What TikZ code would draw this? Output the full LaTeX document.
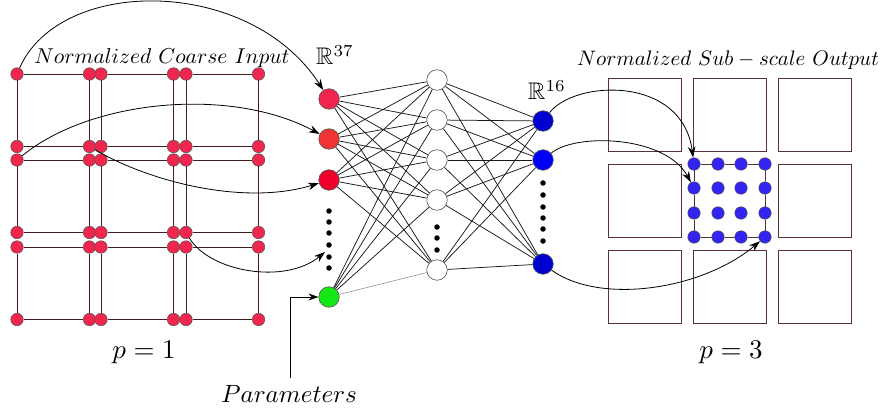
\documentclass[tikz,border=0pt]{standalone}
\usepackage{amssymb}
\usetikzlibrary{arrows.meta}

\definecolor{gridline}{RGB}{70,30,34}
\definecolor{cellline}{RGB}{90,50,54}
\definecolor{crimson}{RGB}{240,38,78}
\definecolor{inred}{RGB}{240,52,52}
\definecolor{indeep}{RGB}{238,0,42}
\definecolor{ingreen}{RGB}{20,232,20}
\definecolor{outdark}{RGB}{0,0,208}
\definecolor{outbright}{RGB}{0,0,250}
\definecolor{subblue}{RGB}{52,36,242}
\definecolor{rimgray}{RGB}{85,85,85}

\tikzset{
  cdot/.style={circle, fill=crimson, draw=rimgray, line width=0.5pt, inner sep=0pt, minimum size=12.5pt},
  bdot/.style={circle, fill=subblue, draw=rimgray, line width=0.5pt, inner sep=0pt, minimum size=12.5pt},
  unit/.style={circle, draw=rimgray, line width=0.6pt, inner sep=0pt, minimum size=20.5pt},
  hidden/.style={unit, fill=white},
  vdot/.style={circle, fill=black, inner sep=0pt, minimum size=5.5pt},
  gridedge/.style={draw=gridline, line width=0.95pt},
  celledge/.style={draw=cellline, line width=0.95pt},
  wire/.style={draw=black!90, line width=0.75pt},
  curvearrow/.style={draw=black, line width=0.8pt, -{Stealth[length=11pt,width=7.5pt]}},
  lbl/.style={inner sep=0pt},
}

\begin{document}
\begin{tikzpicture}[x=1pt, y=-1pt]
\useasboundingbox (0,0) rectangle (880,414);

% ---------- coarse input: 3x3 cells with corner points ----------
\foreach \cx/\x in {0/17, 1/101, 2/186} {
  \foreach \ry/\y in {0/74, 1/160, 2/247} {
    \node[cdot] (c\cx\ry-tl) at (\x, \y) {};
    \node[cdot] (c\cx\ry-tr) at (\x+72.5, \y) {};
    \node[cdot] (c\cx\ry-br) at (\x+72.5, \y+72.5) {};
    \node[cdot] (c\cx\ry-bl) at (\x, \y+72.5) {};
    \path[gridedge] (c\cx\ry-tl) -- (c\cx\ry-tr) -- (c\cx\ry-br) -- (c\cx\ry-bl) -- (c\cx\ry-tl);
  }
}

% ---------- network ----------
\node[unit, fill=crimson] (in1) at (329, 99) {};
\node[unit, fill=inred] (in2) at (329, 139) {};
\node[unit, fill=indeep] (in3) at (329, 180) {};
\node[unit, fill=ingreen] (gn) at (329, 297) {};
\foreach \k/\y in {1/211, 2/222, 3/233, 4/245, 5/257, 6/268}
  \node[vdot] (iv\k) at (329, \y) {};

\node[hidden] (h1) at (437, 80) {};
\node[hidden] (h2) at (437, 120) {};
\node[hidden] (h3) at (437, 160) {};
\node[hidden] (h4) at (437, 200) {};
\node[hidden] (h5) at (437, 270) {};
\foreach \k/\y in {1/227, 2/238, 3/250}
  \node[vdot] (hv\k) at (437, \y) {};

\node[unit, fill=outdark] (o1) at (543, 121) {};
\node[unit, fill=outbright] (o2) at (543, 160) {};
\node[unit, fill=outdark] (o3) at (543, 264) {};
\foreach \k/\y in {1/183, 2/195, 3/207, 4/218, 5/229, 6/241}
  \node[vdot] (ov\k) at (543, \y) {};

\foreach \a in {in1, in2, in3} {
  \foreach \b in {h1, h2, h3, h4, h5}
    \path[wire] (\a) -- (\b);
}
\foreach \b in {h1, h2, h3, h4}
  \path[wire] (gn) -- (\b);
\path[draw=black!45, line width=0.6pt] (gn) -- (h5);
\foreach \a in {h1, h2, h3, h4, h5} {
  \foreach \b in {o1, o2, o3}
    \path[wire] (\a) -- (\b);
}

\node[lbl, anchor=base west] (dimin) at (316, 65) {\scalebox{2.4}{$\mathbb{R}^{37}$}};
\node[lbl, anchor=base west] (dimout) at (528, 100) {\scalebox{2.4}{$\mathbb{R}^{16}$}};

% ---------- sub-scale output ----------
\foreach \x in {608, 693, 778} {
  \foreach \y in {78, 164, 250} {
    \ifnum\x=693 \ifnum\y=164 \else
      \draw[celledge] (\x, \y) rectangle (\x+73, \y+73);
    \fi\else
      \draw[celledge] (\x, \y) rectangle (\x+73, \y+73);
    \fi
  }
}
\foreach \i/\x in {1/694, 2/718, 3/741, 4/765} {
  \foreach \j/\y in {1/164, 2/188, 3/213, 4/237}
    \node[bdot] (s\i\j) at (\x, \y) {};
}
\path[celledge] (s11) -- (s21) -- (s31) -- (s41) -- (s42) -- (s43) -- (s44)
  -- (s34) -- (s24) -- (s14) -- (s13) -- (s12) -- (s11);

% ---------- mapping arrows ----------
\draw[curvearrow] (c00-tl) .. controls (60, -24) and (250, -24) .. (in1);
\draw[curvearrow] (c01-tl) .. controls (90, 100) and (230, 86) .. (in2);
\draw[curvearrow] (c00-br) .. controls (150, 182) and (245, 206) .. (in3);
\coordinate (dotsin) at (325, 252);
\draw[curvearrow] (c21-bl) .. controls (210, 272) and (285, 285) .. (dotsin);

\draw[curvearrow] (o1) .. controls (575, 80) and (682, 75) .. (s11);
\draw[curvearrow] (o2) .. controls (575, 133) and (665, 135) .. (s12);
\draw[curvearrow] (o3) .. controls (600, 305) and (702, 290) .. (s44);

% ---------- labels ----------
\node[lbl, anchor=base] (tin) at (162, 64) {\scalebox{2.15}{$Normalized\ Coarse\ Input$}};
\node[lbl, anchor=base] (tout) at (728, 66) {\scalebox{2.1}{$Normalized\ Sub-scale\ Output$}};
\node[lbl, anchor=base] (pin) at (144, 358) {\scalebox{2.7}{$p=1$}};
\node[lbl, anchor=base] (pout) at (731, 358) {\scalebox{2.7}{$p=3$}};
\node[lbl, anchor=base] (params) at (289, 402) {\scalebox{2.5}{$Parameters$}};
\coordinate (pstart) at (290, 378);
\draw[line width=0.8pt, -{Stealth[length=10pt,width=7pt]}] (pstart) |- (gn);

\end{tikzpicture}
\end{document}
